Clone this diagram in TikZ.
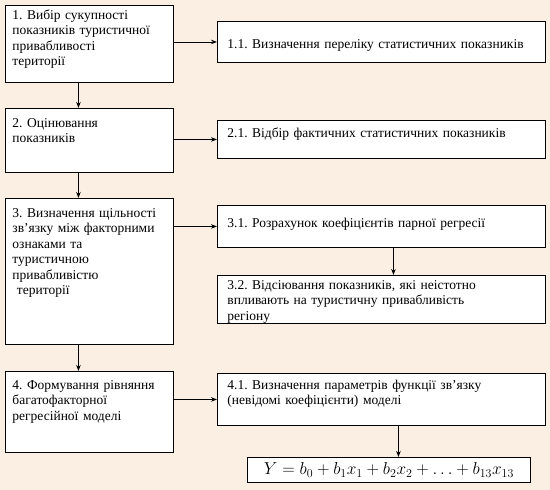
\documentclass[tikz,border=0pt]{standalone}
\usepackage{fontspec}
\setmainfont{Liberation Serif}
\usetikzlibrary{arrows.meta}
\definecolor{paper}{RGB}{251,238,226}
\frenchspacing

\begin{document}
\begin{tikzpicture}[x=1pt,y=-1pt,
    box/.style 2 args={draw,fill=white,line width=.9pt,anchor=north west,align=left,
        inner ysep=0pt,text height=#1,text depth=#2,
        font=\fontsize{13.5}{15.5}\selectfont},
    lbox/.style={inner xsep=7pt,text width=154pt},
    rbox/.style={inner xsep=10pt,text width=308pt},
    arr/.style={line width=.9pt,-{Stealth[length=6pt,width=4.5pt]}}]

\useasboundingbox[fill=paper] (0,0) rectangle (550,490);

% left column: the four stages
\node[box={14pt}{63pt},lbox] (b1) at (5,5) {1. Вибір сукупності\\показників туристичної\\привабливості\\території};
\node[box={19pt}{45pt},lbox] (b2) at (5,108) {2. Оцінювання\\показників};
\node[box={19pt}{127pt},lbox] (b3) at (5,198) {3. Визначення щільності\\зв’язку між факторними\\ознаками та\\туристичною\\привабливістю\\\ території};
\node[box={18pt}{63pt},lbox] (b4) at (5,371) {4. Формування рівняння\\багатофакторної\\регресійної моделі};

% right column
\node[box={27pt}{14pt},rbox] (b11) at (217,21) {1.1. Визначення переліку статистичних показників};
\node[box={17pt}{21pt},rbox] (b21) at (217,120) {2.1. Відбір фактичних статистичних показників};
\node[box={22pt}{20pt},rbox] (b31) at (217,205) {3.1. Розрахунок коефіцієнтів парної регресії};
\node[box={14pt}{34pt},rbox] (b32) at (217,275) {3.2. Відсіювання показників, які неістотно\\впливають на туристичну привабливість\\регіону};
\node[box={16pt}{36pt},rbox] (b41) at (217,373) {4.1. Визначення параметрів функції зв’язку\\(невідомі коефіцієнти) моделі};
\node[draw,fill=white,line width=.9pt,anchor=north west,minimum width=283pt,minimum height=25pt,
    inner sep=0pt,font=\fontsize{17}{20}\selectfont] (fm) at (247,457)
    {$Y=b_0+b_1x_1+b_2x_2+\ldots+b_{13}x_{13}$};

\foreach \a/\b in {b1/b2,b2/b3,b3/b4}{% down the left column
    \draw[arr] ([xshift=-11pt]\a.south) -- ([xshift=-11pt]\b.north);}
\foreach \a/\b in {b1/b11,b2/b21,b3/b31,b4/b41}{% stage to its step
    \draw[arr] (\a.east |- \b.west) -- (\b.west);}

\draw[arr] ([xshift=12pt]b31.south) -- ([xshift=12pt]b31.south |- b32.north);
\draw[arr] ([xshift=17pt]b41.south) -- ([xshift=17pt]b41.south |- fm.north);
\end{tikzpicture}
\end{document}
